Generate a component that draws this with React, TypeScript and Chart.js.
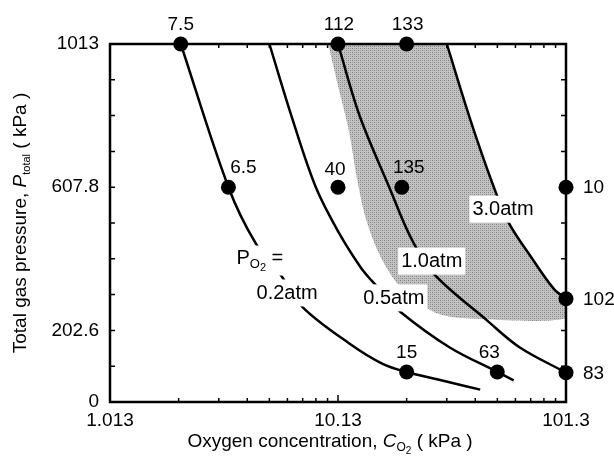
import React, { useEffect, useRef } from 'react';
import { Chart, registerables } from 'chart.js';
Chart.register(...registerables);

// ---- data (C_O2 in kPa, P_total in kPa) ----
const curve02C = [2.07, 3.35, 4.42, 5.7, 7.1, 11.4, 15.9, 20.26, 31.2, 42.6];
const curve02P = [1013, 607.8, 448, 358, 268, 165, 108, 85, 56, 35];
const curve05C = [5.065, 6.4, 8.1, 10.2, 12.7, 14.2, 16.5, 19.1, 31.2, 50.6, 59.7];
const curve05P = [1013, 800, 607.8, 480, 382, 344, 300, 254, 155, 85, 61];
const curve10C = [10.13, 12.6, 17.0, 21.1, 26.6, 45.6, 63.3, 101.3];
const curve10P = [1013, 810, 607.8, 466, 363, 231, 155, 83];
const curve30C = [30.4, 38.5, 48.3, 56.6, 70.6, 89.6, 101.3];
const curve30P = [1013, 800, 617, 509, 414, 320, 292];
const shadeC = [9.17, 10.13, 11.3, 12.2, 13.3, 15.1, 18.0, 22.0, 28.3, 38.0, 101.3, 101.3, 89.6, 70.6, 56.6, 48.3, 38.5, 30.4];
const shadeP = [1013, 895, 768, 641, 528, 429, 344, 287, 248, 236, 236, 292, 320, 414, 509, 617, 800, 1013];

const dotC = [2.07, 10.13, 20.26, 3.35, 10.13, 19.3, 101.3, 101.3, 20.26, 50.6, 101.3];
const dotP = [1013, 1013, 1013, 607.8, 607.8, 607.8, 607.8, 292, 85, 85, 83];
const dotLabels = ['7.5', '112', '133', '6.5', '40', '135', '10', '102', '15', '63', '83'];

const xTicks = [1.013, 10.13, 101.3];
const xTickLabels = ['1.013', '10.13', '101.3'];
const yTicks = [0, 101.3, 202.6, 303.9, 405.2, 506.5, 607.8, 709.1, 810.4, 911.7, 1013];
const yTickLabels = ['0', '', '202.6', '', '', '', '607.8', '', '', '', '1013'];

const curveNames = ['0.2atm', '0.5atm', '1.0atm', '3.0atm'];
const curveLabelC = [6.06, 17.8, 26.1, 53.6];
const curveLabelP = [310, 296, 400, 547];
const po2LabelC = 4.6;
const po2LabelP = 406;

// label offsets (pixels) for dot labels: [dx, dy, align]
const dotLabelOffsets: [number, number, CanvasTextAlign][] = [
  [0, -19, 'center'], [1, -19, 'center'], [1, -19, 'center'],
  [15, -19, 'center'], [-3, -17, 'center'], [7, -19, 'center'],
  [17, 1, 'left'], [17, 1, 'left'], [0, -19, 'center'], [-8, -19, 'center'], [17, 1, 'left'],
];

const FONT = '"Liberation Sans", Arial, Helvetica, sans-serif';

const pts = (cs: number[], ps: number[]) => cs.map((c, i) => ({ x: c, y: ps[i] }));

type Part = { t: string; size: number; italic?: boolean; dy?: number };

function richWidth(ctx: CanvasRenderingContext2D, parts: Part[]) {
  let w = 0;
  for (const p of parts) {
    ctx.font = `${p.italic ? 'italic ' : ''}${p.size}px ${FONT}`;
    w += ctx.measureText(p.t).width;
  }
  return w;
}

function drawRich(ctx: CanvasRenderingContext2D, parts: Part[], cx: number, cy: number) {
  const w = richWidth(ctx, parts);
  let x = cx - w / 2;
  ctx.textBaseline = 'middle';
  ctx.textAlign = 'left';
  for (const p of parts) {
    ctx.font = `${p.italic ? 'italic ' : ''}${p.size}px ${FONT}`;
    ctx.fillText(p.t, x, cy + (p.dy || 0));
    x += ctx.measureText(p.t).width;
  }
}

function makeStipple(): CanvasPattern | string {
  const c = document.createElement('canvas');
  c.width = 4; c.height = 4;
  const g = c.getContext('2d');
  if (!g) return 'rgb(182,182,182)';
  g.fillStyle = 'rgb(195,195,195)';
  g.fillRect(0, 0, 4, 4);
  g.fillStyle = 'rgb(130,130,130)';
  g.fillRect(0, 0, 1, 1);
  g.fillRect(2, 2, 1, 1);
  g.fillStyle = 'rgb(160,160,160)';
  g.fillRect(2, 0, 1, 1);
  g.fillRect(0, 2, 1, 1);
  const p = g.createPattern(c, 'repeat');
  return p || 'rgb(182,182,182)';
}

const overlayPlugin = {
  id: 'overlay',
  afterDraw(chart: any) {
    const { ctx, chartArea } = chart;
    const { left, right, top, bottom } = chartArea;
    const xs = chart.scales.x;
    const ys = chart.scales.y;
    ctx.save();
    ctx.fillStyle = '#000';
    ctx.strokeStyle = '#000';

    // curve labels with white boxes
    ctx.font = `20px ${FONT}`;
    ctx.textBaseline = 'middle';
    ctx.textAlign = 'center';
    curveNames.forEach((name, i) => {
      const px = xs.getPixelForValue(curveLabelC[i]);
      const py = ys.getPixelForValue(curveLabelP[i]);
      const w = ctx.measureText(name).width;
      ctx.fillStyle = '#fff';
      ctx.fillRect(px - w / 2 - 3, py - 13, w + 6, 27);
      ctx.fillStyle = '#000';
      ctx.fillText(name, px, py + 1);
    });
    // P_O2 = label
    {
      const px = xs.getPixelForValue(po2LabelC);
      const py = ys.getPixelForValue(po2LabelP);
      const parts: Part[] = [
        { t: 'P', size: 20 },
        { t: 'O', size: 13, dy: 6 },
        { t: '2', size: 11, dy: 9 },
        { t: ' =', size: 20 },
      ];
      const w = richWidth(ctx, parts);
      ctx.fillStyle = '#fff';
      ctx.fillRect(px - w / 2 - 3, py - 13, w + 6, 30);
      ctx.fillStyle = '#000';
      drawRich(ctx, parts, px, py);
    }

    // dot labels
    ctx.font = `19px ${FONT}`;
    ctx.textBaseline = 'middle';
    dotLabels.forEach((lab, i) => {
      const px = xs.getPixelForValue(dotC[i]);
      const py = ys.getPixelForValue(dotP[i]);
      const [dx, dy, al] = dotLabelOffsets[i];
      ctx.textAlign = al;
      ctx.fillText(lab, px + dx, py + dy);
    });

    // frame
    ctx.lineWidth = 2.5;
    ctx.strokeRect(left, top, right - left, bottom - top);

    // inward ticks
    ctx.lineWidth = 1.5;
    ctx.beginPath();
    for (const v of yTicks) {
      const py = ys.getPixelForValue(v);
      ctx.moveTo(left, py); ctx.lineTo(left + 5, py);
      ctx.moveTo(right, py); ctx.lineTo(right - 5, py);
    }
    for (let d = 0; d < xTicks.length - 1; d++) {
      for (let k = 1; k <= 9; k++) {
        const px = xs.getPixelForValue(xTicks[d] * k);
        const len = k === 1 ? 7 : 4;
        ctx.moveTo(px, bottom); ctx.lineTo(px, bottom - len);
        ctx.moveTo(px, top); ctx.lineTo(px, top + len);
      }
    }
    ctx.stroke();

    // axis titles
    ctx.fillStyle = '#000';
    drawRich(ctx, [
      { t: 'Oxygen concentration, ', size: 19 },
      { t: 'C', size: 19, italic: true },
      { t: 'O', size: 12, dy: 6 },
      { t: '2', size: 10, dy: 9 },
      { t: ' ( kPa )', size: 19 },
    ], 330, 442);
    ctx.save();
    ctx.translate(21, (top + bottom) / 2);
    ctx.rotate(-Math.PI / 2);
    drawRich(ctx, [
      { t: 'Total gas pressure, ', size: 19 },
      { t: 'P', size: 19, italic: true },
      { t: 'total', size: 11, dy: 6 },
      { t: ' ( kPa )', size: 19 },
    ], 0, 0);
    ctx.restore();
    ctx.restore();
  },
};

export default function App() {
  const ref = useRef<HTMLCanvasElement>(null);
  useEffect(() => {
    const lineDs = (c: number[], p: number[]) => ({
      data: pts(c, p),
      showLine: true,
      borderColor: '#000',
      borderWidth: 2.5,
      pointRadius: 0,
      tension: 0.35,
      fill: false,
      order: 5,
    });
    const chart = new Chart(ref.current!, {
      type: 'scatter',
      data: {
        datasets: [
          {
            data: pts(shadeC, shadeP),
            showLine: true,
            fill: 'shape',
            backgroundColor: makeStipple(),
            borderColor: 'rgba(0,0,0,0)',
            borderWidth: 0,
            pointRadius: 0,
            tension: 0.3,
            order: 10,
          } as any,
          lineDs(curve02C, curve02P),
          lineDs(curve05C, curve05P),
          lineDs(curve10C, curve10P),
          lineDs(curve30C, curve30P),
          {
            data: pts(dotC, dotP),
            showLine: false,
            pointRadius: 7.5,
            pointBackgroundColor: '#000',
            pointBorderColor: '#000',
            pointBorderWidth: 0,
            clip: false,
            order: 1,
          } as any,
        ],
      },
      options: {
        animation: false,
        responsive: false,
        events: [],
        layout: { padding: { top: 44, right: 48, left: 0, bottom: 0 } },
        plugins: { legend: { display: false }, tooltip: { enabled: false } },
        scales: {
          x: {
            type: 'logarithmic',
            min: 1.013,
            max: 101.3,
            grid: { display: false, drawTicks: false },
            border: { display: false },
            afterBuildTicks: (s: any) => { s.ticks = xTicks.map((v) => ({ value: v })); },
            afterFit: (s: any) => { s.height = 62; },
            ticks: {
              autoSkip: false,
              maxRotation: 0,
              padding: 7,
              color: '#000',
              font: { family: FONT, size: 19 },
              callback: (_v: any, i: number) => xTickLabels[i],
            },
          },
          y: {
            type: 'linear',
            min: 0,
            max: 1013,
            grid: { display: false, drawTicks: false },
            border: { display: false },
            afterBuildTicks: (s: any) => { s.ticks = yTicks.map((v) => ({ value: v })); },
            afterFit: (s: any) => { s.width = 110; },
            ticks: {
              autoSkip: false,
              padding: 11,
              color: '#000',
              font: { family: FONT, size: 19 },
              callback: (_v: any, i: number) => yTickLabels[i],
            },
          },
        },
      } as any,
      plugins: [overlayPlugin],
    });
    return () => chart.destroy();
  }, []);
  return (
    <div style={{ position: 'fixed', left: 0, top: 0, width: 614, height: 464, background: '#fff' }}>
      <canvas ref={ref} width={614} height={464} style={{ width: 614, height: 464, display: 'block' }} />
    </div>
  );
}
